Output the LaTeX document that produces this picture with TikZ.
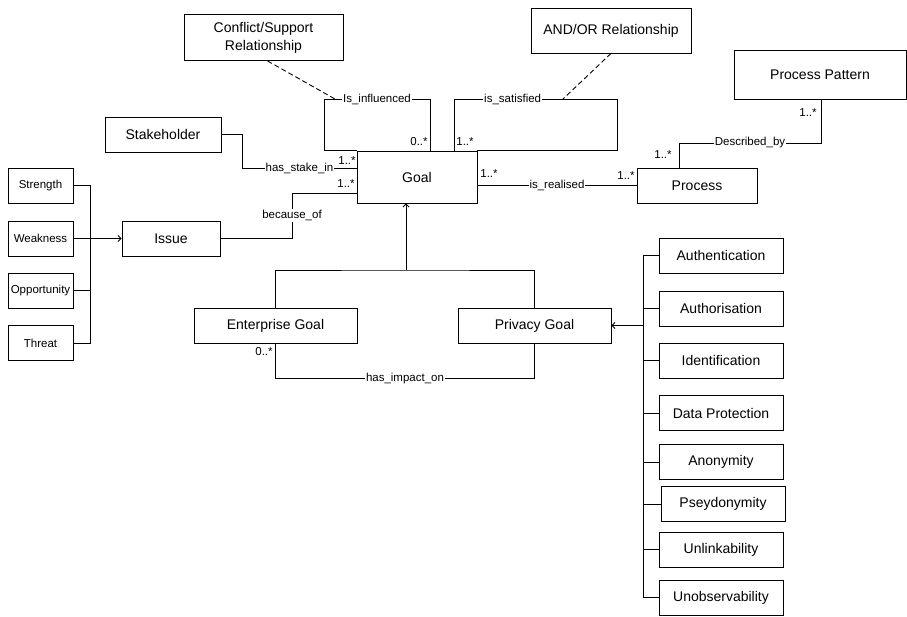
\documentclass[tikz,border=0pt]{standalone}
\usepackage{fontspec}
\setmainfont{Liberation Sans}
\usetikzlibrary{arrows.meta}

\begin{document}
\begin{tikzpicture}[x=1pt, y=-1pt, line width=0.9pt, >={Straight Barb[length=3pt,width=6pt]},
  box/.style={draw, inner sep=0pt, minimum height=35pt, align=center, font=\fontsize{14}{18}\selectfont},
  swot/.style={draw, inner sep=0pt, minimum width=65pt, minimum height=35pt, font=\fontsize{11.5}{13}\selectfont},
  lab/.style={fill=white, inner sep=1pt, font=\fontsize{11.5}{13}\selectfont},
  mult/.style={inner sep=0pt, font=\fontsize{11.5}{13}\selectfont},
  link/.style={dash pattern=on 5pt off 3pt}]
\useasboundingbox (0,0) rectangle (907,616);
\node[box, minimum width=159pt, minimum height=46pt] (conflict) at (263.5,37.5) {Conflict/Support\\Relationship};
\node[box, minimum width=160pt, minimum height=45pt] (andor) at (611,30.5) {AND/OR Relationship};
\node[box, minimum width=172pt, minimum height=49pt] (pattern) at (820,74.5) {Process Pattern};
\node[box, minimum width=120pt, minimum height=52pt] (goal) at (417,177) {Goal};
\node[box, minimum width=116pt] (stakeholder) at (163,134.5) {Stakeholder};
\node[box, minimum width=98pt] (issue) at (171,238.5) {Issue};
\node[box, minimum width=120pt] (process) at (697,185.5) {Process};
\node[box, minimum width=163pt] (entgoal) at (275.5,325.5) {Enterprise Goal};
\node[box, minimum width=153pt] (privgoal) at (534.5,325.5) {Privacy Goal};
\foreach \n/\txt/\y in {strength/Strength/185.5, weakness/Weakness/238.5,
  opportunity/Opportunity/290.5, threat/Threat/343}
  {\node[swot] (\n) at (40.5,\y) {\txt};}
\foreach \n/\txt/\x/\y in {authentication/Authentication/721/255.5, authorisation/Authorisation/721/308.5,
  identification/Identification/721/360.5, dataprot/Data Protection/721/413, anonymity/Anonymity/721/462,
  pseudonymity/Pseydonymity/723/504, unlinkability/Unlinkability/721/549.5, unobservability/Unobservability/721/597.5}
  {\node[box, minimum width=124pt] (\n) at (\x,\y) {\txt};}
\coordinate (swotbus) at (90,0);
\coordinate (privbus) at (643,0);
\coordinate (genpt) at (406,270);
\coordinate (infl) at (324,99); \coordinate (inflhook) at (335,99);
\coordinate (sat) at (617,99); \coordinate (sathook) at (563,99);
\coordinate (descr) at (821,143);
% self associations of Goal
\draw (goal.north -| 430,0) |- (infl) node[pos=0.75,lab]{Is\_influenced} |- (goal.north west);
\draw (goal.north -| 454,0) |- (sat) node[pos=0.68,lab]{is\_satisfied} |- (goal.north east);
\draw[link] ([xshift=4pt]conflict.south) -- (inflhook);
\draw[link] (andor.south) -- (sathook);
\node[mult] at (419,142) {0..*};
\node[mult] at (465,142) {1..*};
% associations
\draw (stakeholder.east) -- ++(21,0) |- (goal.west |- 0,168) node[pos=0.75,lab]{has\_stake\_in};
\node[mult] at (347,161) {1..*};
\draw (issue.east) -| (292,193) node[pos=0.75,lab]{because\_of} -- (goal.west |- 0,193);
\node[mult] at (346,184) {1..*};
\draw (process.west -| goal.east) -- (process.west) node[midway,lab]{is\_realised};
\node[mult] at (489,174) {1..*};
\node[mult] at (626,176) {1..*};
\draw ([xshift=-18pt]process.north) |- (descr) node[pos=0.75,lab]{Described\_by} -- (descr |- pattern.south);
\node[mult] at (663,155) {1..*};
\node[mult] at (808,113) {1..*};
\draw (entgoal.south) -- ++(0,35) -| (privgoal.south) node[pos=0.25,lab]{has\_impact\_on};
\node[mult] at (264,352) {0..*};
% generalisations
\draw[->] (genpt) -- (genpt |- goal.south);
\draw (entgoal.north) |- (genpt) -| (privgoal.north);
\draw (strength.east) -| (threat.east -| swotbus) -- (threat.east);
\draw (opportunity.east) -- (opportunity.east -| swotbus);
\draw[->] (weakness.east) -- (issue.west);
\draw (authentication.west) -| (unobservability.west -| privbus) -- (unobservability.west);
\foreach \n in {authorisation,identification,dataprot,anonymity,pseudonymity,unlinkability}
  {\draw (\n.west) -- (\n.west -| privbus);}
\draw[->] (privgoal.east -| privbus) -- (privgoal.east);
\end{tikzpicture}
\end{document}
